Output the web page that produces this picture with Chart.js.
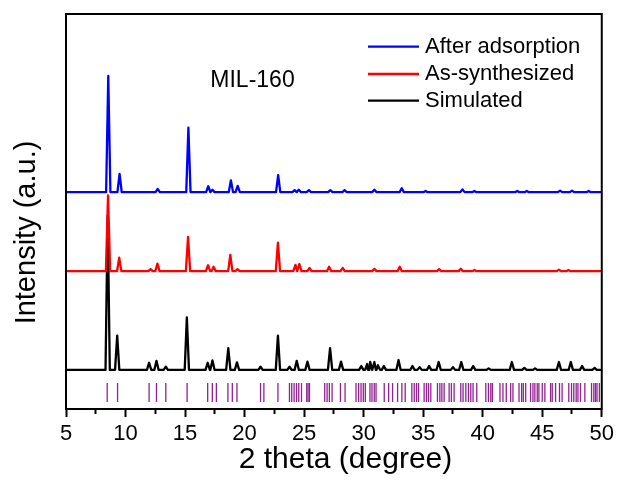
<!DOCTYPE html>
<html lang="en">
<head>
  <meta charset="UTF-8">
  <title>MIL-160 XRD patterns</title>
  <script src="https://cdn.jsdelivr.net/npm/chart.js"></script>
  <style>
    html, body { margin: 0; padding: 0; background: #ffffff; }
    #xrdChart { display: block; }
  </style>
</head>
<body>
  <canvas id="xrdChart" width="618" height="480"></canvas>

  <script>
    const FONT = '"Liberation Sans", Arial, Helvetica, sans-serif';

    // 2 theta axis
    const thetaMin = 5;
    const thetaMax = 50;
    const thetaStep = 2.5;

    const seriesNames = ['After adsorption', 'As-synthesized', 'Simulated'];
    const seriesColors = ['#0000ff', '#ff0000', '#000000'];
    // baseline of each stacked pattern (a.u.)
    const seriesOffsets = [54.9, 34.9, 9.9];

    // peaks as [2 theta, intensity above baseline]
    const afterAdsorption = [
      [8.55, 29.4], [9.5, 4.6], [12.7, 0.8], [15.28, 16.3], [16.95, 1.5], [17.3, 0.6],
      [18.85, 3.0], [19.42, 1.6], [22.82, 4.3], [24.2, 0.5], [24.55, 0.6], [25.4, 0.5],
      [27.2, 0.5], [28.4, 0.5], [30.9, 0.6], [33.2, 1.0], [35.2, 0.3], [38.3, 0.7],
      [39.3, 0.3], [42.9, 0.3], [43.7, 0.3], [46.5, 0.4], [47.5, 0.4], [48.9, 0.3]
    ];
    const asSynthesized = [
      [8.53, 19.2], [9.47, 3.4], [12.1, 0.5], [12.68, 1.9], [15.25, 8.7], [16.93, 1.5],
      [17.4, 1.1], [18.8, 4.1], [19.4, 0.5], [22.8, 7.2], [24.27, 1.6], [24.6, 1.8],
      [25.45, 0.8], [27.1, 1.1], [28.24, 0.8], [30.9, 0.6], [33.03, 1.1], [36.34, 0.5],
      [38.16, 0.6], [39.3, 0.3], [46.4, 0.4], [47.2, 0.3]
    ];
    const simulated = [
      [8.5, 39.0], [9.3, 8.7], [11.98, 1.8], [12.6, 2.3], [13.38, 0.8], [15.15, 13.3],
      [16.9, 1.8], [17.3, 2.4], [18.63, 5.5], [19.36, 1.9], [21.34, 0.8], [22.8, 8.7],
      [23.77, 0.8], [24.38, 2.3], [25.28, 2.1], [27.18, 5.5], [28.1, 2.1], [29.8, 1.0],
      [30.3, 1.5], [30.55, 2.0], [30.9, 2.0], [31.2, 1.2], [31.7, 1.0], [32.93, 2.5],
      [34.1, 1.0], [34.7, 0.7], [35.5, 1.0], [36.3, 2.0], [37.5, 0.7], [38.2, 2.0],
      [39.2, 1.0], [40.5, 0.4], [42.45, 2.0], [43.5, 0.5], [44.4, 0.4], [46.4, 2.0],
      [47.4, 2.0], [48.35, 1.0], [49.4, 0.5]
    ];

    // calculated reflection positions (2 theta)
    const reflections = [
      8.46, 9.33, 11.98, 12.6, 13.38, 15.17, 16.9, 17.29, 17.63, 18.6, 18.97, 19.36,
      21.34, 21.62, 22.8, 23.77, 23.96, 24.16, 24.36, 24.55, 24.78, 25.22, 25.33, 25.45,
      26.73, 26.93, 27.12, 27.35, 28.05, 28.44, 29.36, 29.58, 29.78, 29.97, 30.14, 30.53,
      30.7, 30.89, 31.04, 31.73, 32.1, 32.43, 32.85, 33.21, 33.49, 34.05, 34.25, 34.44,
      34.61, 35.08, 35.27, 35.44, 35.64, 36.2, 36.4, 36.57, 36.76, 37.18, 37.37, 37.6,
      38.16, 38.35, 38.58, 38.8, 39.0, 39.19, 39.5, 40.26, 40.48, 40.68, 40.81, 41.45,
      41.7, 41.98, 42.35, 42.54, 43.05, 43.27, 43.41, 43.61, 44.02, 44.22, 44.38, 44.58,
      44.72, 45.0, 45.22, 45.7, 45.84, 46.12, 46.45, 46.67, 47.23, 47.46, 47.65, 47.85,
      48.0, 48.21, 48.58, 49.14, 49.33, 49.47, 49.6, 49.8
    ];
    const reflectionLevel = 4.2;

    const peakHalfWidth = 0.18;

    // baseline with a sharp spike at every peak
    function buildPattern(peaks, offset) {
      const pts = [{ x: thetaMin, y: offset }, { x: thetaMax, y: offset }];
      peaks.forEach(([pos, h]) => {
        pts.push({ x: pos - peakHalfWidth, y: offset });
        pts.push({ x: pos, y: offset + h });
        pts.push({ x: pos + peakHalfWidth, y: offset });
      });
      return pts.sort((a, b) => a.x - b.x);
    }

    const datasets = [afterAdsorption, asSynthesized, simulated].map((peaks, i) => ({
      label: seriesNames[i],
      data: buildPattern(peaks, seriesOffsets[i]),
      showLine: true,
      borderColor: seriesColors[i],
      borderWidth: 2.3,
      borderJoinStyle: 'round',
      pointRadius: 0,
      tension: 0
    }));

    datasets.push({
      label: 'Reflections',
      data: reflections.map(x => ({ x: x, y: reflectionLevel })),
      showLine: false,
      pointStyle: 'line',
      rotation: 90,
      pointRadius: 9.5,
      borderWidth: 1.3,
      borderColor: '#922294'
    });

    // frame, legend, sample label and axis titles
    const decorations = {
      id: 'decorations',
      afterDraw(chart) {
        const { ctx, chartArea } = chart;
        const { left, top, right, bottom } = chartArea;
        ctx.save();

        ctx.strokeStyle = '#000';
        ctx.lineWidth = 2;
        ctx.strokeRect(left, top, right - left, bottom - top);

        // legend
        ctx.font = '22px ' + FONT;
        ctx.textAlign = 'left';
        ctx.textBaseline = 'middle';
        const rows = [top + 32.7, top + 60, top + 86.7];
        for (let i = 0; i < 3; i++) {
          const ds = chart.data.datasets[i];
          ctx.strokeStyle = ds.borderColor;
          ctx.lineWidth = 2.3;
          ctx.beginPath();
          ctx.moveTo(left + 302, rows[i]);
          ctx.lineTo(left + 353, rows[i]);
          ctx.stroke();
          ctx.fillStyle = '#000';
          ctx.fillText(ds.label, left + 359, rows[i]);
        }

        ctx.font = '23px ' + FONT;
        ctx.textAlign = 'center';
        ctx.textBaseline = 'alphabetic';
        ctx.fillText('MIL-160', left + 186.5, top + 72.7);

        // axis titles
        ctx.font = '30px ' + FONT;
        ctx.fillText('2 theta (degree)', 345.5, 468);

        ctx.translate(35, 232.5);
        ctx.rotate(-Math.PI / 2);
        ctx.font = '29px ' + FONT;
        ctx.fillText('Intensity (a.u.)', 0, 0);

        ctx.restore();
      }
    };

    new Chart(document.getElementById('xrdChart').getContext('2d'), {
      type: 'scatter',
      data: { datasets: datasets },
      options: {
        responsive: false,
        animation: false,
        events: [],
        layout: { padding: { top: 14, right: 15, left: 0, bottom: 0 } },
        plugins: {
          legend: { display: false },
          tooltip: { enabled: false }
        },
        scales: {
          x: {
            type: 'linear',
            min: thetaMin,
            max: thetaMax,
            ticks: {
              stepSize: thetaStep,
              autoSkip: false,
              maxRotation: 0,
              padding: 4,
              color: '#000',
              font: { family: FONT, size: 22 },
              callback: v => (v % 5 === 0 ? String(v) : '')
            },
            grid: {
              drawOnChartArea: false,
              tickLength: 8,
              tickWidth: 2,
              tickColor: '#000',
              // short minor ticks between the labelled ones
              tickBorderDash: c => (c.tick && c.tick.value % 5 !== 0 ? [4, 100] : [])
            },
            border: { color: '#000', width: 2 },
            afterFit: scale => { scale.height = 71; }
          },
          y: {
            min: 0,
            max: 100,
            ticks: { display: false },
            grid: { display: false },
            border: { color: '#000', width: 2 },
            afterFit: scale => { scale.width = 66; }
          }
        }
      },
      plugins: [decorations]
    });
  </script>
</body>
</html>
